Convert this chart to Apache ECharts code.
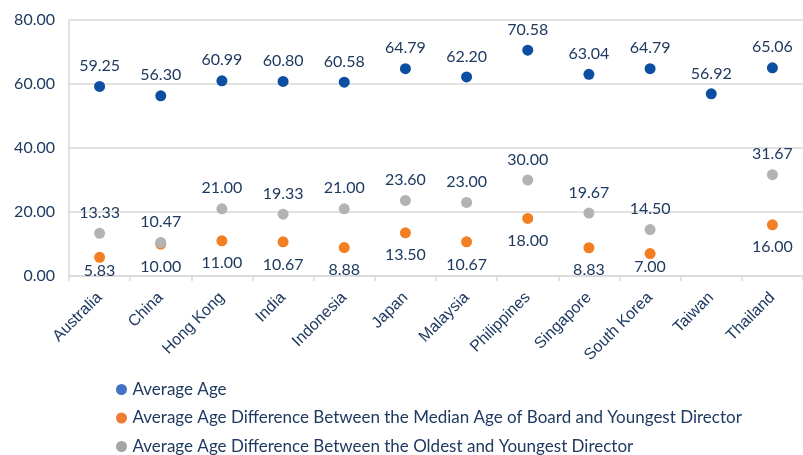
<!DOCTYPE html>
<html>
<head>
<meta charset="utf-8">
<script src="https://cdn.jsdelivr.net/npm/echarts@6/dist/echarts.min.js"></script>
<style>
  html, body { margin: 0; padding: 0; background: #fff; }
  #chart { width: 803px; height: 455px; }
</style>
</head>
<body>
<div id="chart"></div>
<script>
var countries = ["Australia", "China", "Hong Kong", "India", "Indonesia", "Japan",
  "Malaysia", "Philippines", "Singapore", "South Korea", "Taiwan", "Thailand"];
var averageAge = [59.25, 56.30, 60.99, 60.80, 60.58, 64.79, 62.20, 70.58, 63.04, 64.79, 56.92, 65.06];
var medianDiff = [5.83, 10.00, 11.00, 10.67, 8.88, 13.50, 10.67, 18.00, 8.83, 7.00, null, 16.00];
var oldestDiff = [13.33, 10.47, 21.00, 19.33, 21.00, 23.60, 23.00, 30.00, 19.67, 14.50, null, 31.67];
var yTicks = [0, 20, 40, 60, 80];

var seriesNames = [
  "Average Age",
  "Average Age Difference Between the Median Age of Board and Youngest Director",
  "Average Age Difference Between the Oldest and Youngest Director"
];

var textColor = "#1f3a60";
var font = "Lato, 'Noto Sans', sans-serif";

function dotSeries(name, data, color, pos, dist) {
  return {
    name: name,
    type: "scatter",
    data: data.map(function (v) {
      // labels under dots close to the axis get pulled up, like in the original
      if (pos === "bottom" && v != null && v < 8) {
        return { value: v, label: { distance: 0 } };
      }
      return v;
    }),
    symbolSize: 11,
    itemStyle: { color: color, opacity: 1 },
    label: {
      show: true,
      position: pos,
      distance: dist,
      color: textColor,
      fontFamily: font,
      fontSize: 16,
      formatter: function (p) { return p.value == null ? "" : Number(p.value).toFixed(2); }
    },
    emphasis: { disabled: true }
  };
}

var chart = echarts.init(document.getElementById("chart"));
chart.setOption({
  animation: false,
  grid: { left: 69, top: 20, width: 744, height: 256 },
  legend: {
    orient: "vertical",
    left: 111,
    top: 376,
    height: 90,
    icon: "circle",
    itemWidth: 12,
    itemHeight: 11,
    itemGap: 11.5,
    textStyle: { color: textColor, fontFamily: font, fontSize: 17 },
    data: [
      { name: seriesNames[0], itemStyle: { color: "#4472c4" } },
      { name: seriesNames[1], itemStyle: { color: "#ed7d31" } },
      { name: seriesNames[2], itemStyle: { color: "#a5a5a5" } }
    ]
  },
  xAxis: {
    type: "category",
    data: countries,
    axisLine: { lineStyle: { color: "#d9d9d9", width: 1.5 } },
    axisTick: { show: true, length: 5, lineStyle: { color: "#d9d9d9", width: 1.5 } },
    axisLabel: {
      rotate: 45,
      margin: 19,
      interval: 0,
      color: textColor,
      fontFamily: "'Liberation Sans', Arial, sans-serif",
      fontSize: 16
    }
  },
  yAxis: {
    type: "value",
    min: yTicks[0],
    max: yTicks[yTicks.length - 1],
    interval: 20,
    axisLine: { show: true, lineStyle: { color: "#d9d9d9", width: 1.5 } },
    splitLine: { lineStyle: { color: "#d9d9d9", width: 1.5 } },
    axisLabel: {
      margin: 14,
      color: textColor,
      fontFamily: font,
      fontSize: 16,
      formatter: function (v) { return v.toFixed(2); }
    }
  },
  series: [
    dotSeries(seriesNames[0], averageAge, "#0c4ea2", "top", 7),
    dotSeries(seriesNames[1], medianDiff, "#f27f22", "bottom", 9),
    dotSeries(seriesNames[2], oldestDiff, "#b3b3b3", "top", 7)
  ]
});
</script>
</body>
</html>
